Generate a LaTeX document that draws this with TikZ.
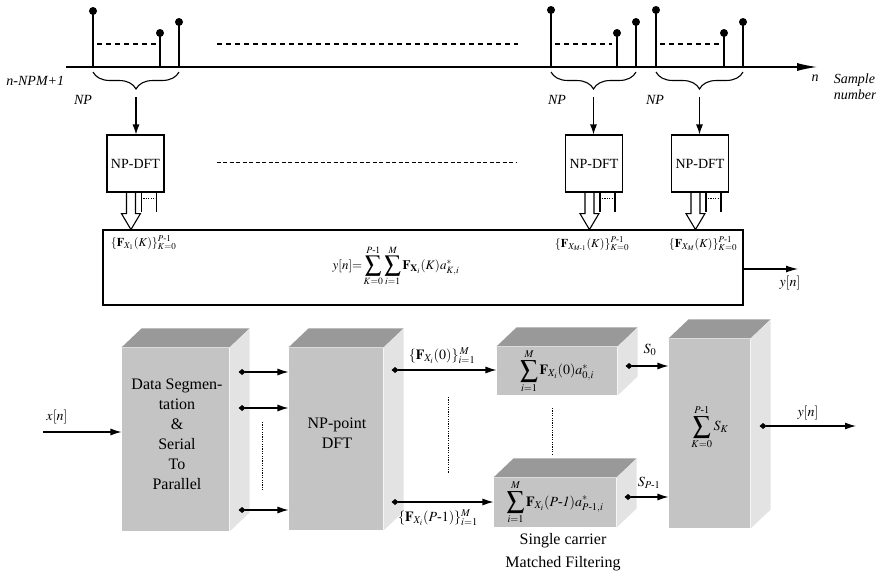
\documentclass[tikz,border=0pt]{standalone}
\usepackage{amsmath}
\usepackage{mathptmx}
\usepackage{fontspec}
\setmainfont{Liberation Serif}
\usetikzlibrary{arrows.meta,calc,decorations.pathreplacing}
\definecolor{FaceClr}{gray}{0.77}
\definecolor{TopClr}{gray}{0.6}
\definecolor{SideClr}{gray}{0.89}
\newcommand{\bigsumop}{\mathop{\vcenter{\hbox{\scalebox{1.8}{$\textstyle\sum$}}}}\limits}

\begin{document}
\begin{tikzpicture}[x=1pt,y=-1pt,line width=1.1pt,
  flow/.style={-{Latex[length=10pt,width=7pt]}},
  tap/.style={{Diamond[length=7pt,width=6pt]}-{Latex[length=11pt,width=7pt]}},
  dftbox/.style={draw,minimum width=57pt,minimum height=57pt,inner sep=0pt,font=\fontsize{14}{17}\selectfont},
  block/.style={fill=FaceClr,inner sep=0pt,align=center},
  blocktxt/.style={align=center,font=\fontsize{16}{20}\selectfont},
  axlbl/.style={font=\fontsize{14}{16}\selectfont\itshape},
  mlbl/.style={font=\fontsize{14}{16}\selectfont},
  slbl/.style={font=\fontsize{12}{14}\selectfont},
  dots/.style={line width=0.8pt,dash pattern=on 1.2pt off 1.2pt}]

\useasboundingbox (0,0) rectangle (876,574);

\coordinate (O) at (66,67);
\coordinate (E) at (817,67);
\draw[-{Latex[length=20pt,width=8pt]}] (O) -- (E);
\foreach \x/\h [count=\i] in {93/11,160/33,179/22,551/10,617/33,636/22,656/10,724/33,743/22}{
  \coordinate (T\i) at (\x,\h);
  \draw (T\i) -- (T\i |- O);
  \fill (T\i) circle (4pt);
}
\foreach \a/\b in {97/158,217/518,555/612,660/720}
  \draw[dash pattern=on 5pt off 4pt] (\a,44) -- (\b,44);
\foreach \a/\b [count=\i] in {1/3,4/6,7/9}{
  \draw[decorate,decoration={brace,mirror,amplitude=17pt}] ([yshift=-5pt]T\a |- O) -- ([yshift=-5pt]T\b |- O);
  \coordinate (P\i) at ($(T\a |- O)!0.5!(T\b |- O)+(0,30)$);
}
\node[axlbl,anchor=east] (Start) at (68,81) {n-NPM+1};
\node[axlbl] (NP1) at (83,100) {NP};
\node[axlbl] (NP2) at (557,100) {NP};
\node[axlbl] (NP3) at (655,100) {NP};
\node[axlbl] (N) at (815,78) {n};
\node[axlbl,anchor=west,align=left] (Smp) at (830,87) {Sample\\number};

\node[dftbox] (D1) at (135.5,163.5) {NP-DFT};
\node[dftbox] (D2) at (594,163.5) {NP-DFT};
\node[dftbox] (D3) at (700,163.5) {NP-DFT};
\foreach \i in {1,2,3}
  \draw[flow] (P\i) -- (P\i |- D\i.north);
\draw[line width=0.6pt,dash pattern=on 4pt off 2.5pt] ($(D1.east)+(52,-1)$) -- ($(D2.west)+(-48,-1)$);
\foreach \b in {D1,D2,D3}{
  \draw ($(\b.south west)+(20,0)$) -- ++(0,21) -- ++(-5,0) -- ++(9.5,16) -- ++(9.5,-16) -- ++(-5,0) -- ++(0,-21);
  \draw ($(\b.south west)+(35,0)$) -- ++(0,19);
  \draw ($(\b.south west)+(50,0)$) -- ++(0,19);
  \draw[dots] ($(\b.south west)+(37,6)$) -- ++(12,0);
}

\node[draw,minimum width=640pt,minimum height=75pt,inner sep=0pt] (Sum) at (423,267.5) {};
\node[slbl,anchor=west] (F1) at (107,243) {$\{\mathbf{F}_{X_1}(K)\}_{K=0}^{P\text{-}1}$};
\node[slbl] (F2) at (592,244) {$\{\mathbf{F}_{X_{M\text{-}1}}(K)\}_{K=0}^{P\text{-}1}$};
\node[slbl] (F3) at (703,244) {$\{\mathbf{F}_{X_M}(K)\}_{K=0}^{P\text{-}1}$};
\node[mlbl,font=\fontsize{13}{15}\selectfont] (Eq) at (396,266) {$y[n]{=}\bigsumop_{K=0}^{P\text{-}1}\bigsumop_{i=1}^{M}\mathbf{F}_{\mathbf{X}_i}(K)a_{K,i}^{*}$};
\coordinate (Y1) at (798,269);
\draw[-{Latex[length=12pt,width=7pt]}] (Sum.east |- Y1) -- (Y1);
\node[mlbl] (Y1l) at (790,283) {$y[n]$};

\node[block,minimum width=107pt,minimum height=183pt] (A) at (175.5,439.5) {};
\node[block,minimum width=94pt,minimum height=182pt] (B) at (336,439) {};
\node[block,minimum width=120pt,minimum height=48pt,font=\fontsize{14}{17}\selectfont] (C1) at (557,371) {$\bigsumop_{i=1}^{M}\mathbf{F}_{X_i}(0)a_{0,i}^{*}$};
\node[block,minimum width=122pt,minimum height=49pt,font=\fontsize{14}{17}\selectfont] (C2) at (555,502.5) {$\bigsumop_{i=1}^{M}\mathbf{F}_{X_i}(\mathit{P\text{-}1})a_{P\text{-}1,i}^{*}$};
\node[block,minimum width=81pt,minimum height=189pt] (D) at (709.5,433.5) {};
\foreach \b in {A,B,C1,C2,D}{
  \fill[TopClr] (\b.north west) -- ++(20,-19) -- ($(\b.north east)+(20,-19)$) -- (\b.north east) -- cycle;
  \fill[SideClr] (\b.north east) -- ++(20,-19) -- ($(\b.south east)+(20,-19)$) -- (\b.south east) -- cycle;
}
\node[blocktxt] (At) at (177,434) {Data Segmen-\\tation\\\&\\Serial\\To\\Parallel};
\node[blocktxt] (Bt) at (337,433) {NP-point\\DFT};
\node[blocktxt,font=\fontsize{14}{17}\selectfont] (Dt) at (710,427) {$\bigsumop_{K=0}^{P\text{-}1}S_K$};

\coordinate (X0) at (43,432);
\draw[-{Latex[length=11pt,width=7pt]}] (X0) -- (X0 -| A.west);
\node[mlbl] (Xl) at (57,417) {$x[n]$};
\foreach \y in {372,408,510}
  \draw[tap] ($(A.east |- 0,\y)+(9,0)$) -- (B.west |- 0,\y);
\draw[dots] (262,422) -- (262,491);

\draw[tap] ($(B.east |- 0,370)+(8,0)$) -- (C1.west |- 0,370);
\draw[tap] ($(B.east |- 0,502)+(8,0)$) -- (C2.west |- 0,502);
\node[mlbl] (G1) at (442,356) {$\{\mathbf{F}_{X_i}(0)\}_{i=1}^{\,M}$};
\node[mlbl] (G2) at (438,518) {$\{\mathbf{F}_{X_i}(P\text{-}1)\}_{i=1}^{M}$};
\draw[dots] (448,397) -- (448,473);
\draw[dots] (552,408) -- (552,455);

\draw[tap] ($(C1.east |- 0,366)+(8,0)$) -- (D.west |- 0,366);
\draw[tap] ($(C2.east |- 0,497)+(8,0)$) -- (D.west |- 0,497);
\node[mlbl] (S0) at (650,350) {$S_0$};
\node[mlbl] (S1) at (649,483) {$S_{P\text{-}1}$};

\coordinate (Y2) at (856,426);
\draw[tap] ($(D.east |- Y2)+(9,0)$) -- (Y2);
\node[mlbl] (Y2l) at (808,413) {$y[n]$};
\node[blocktxt,font=\fontsize{16}{23}\selectfont] (Cap) at (563,552) {Single carrier\\Matched Filtering};
\end{tikzpicture}
\end{document}
